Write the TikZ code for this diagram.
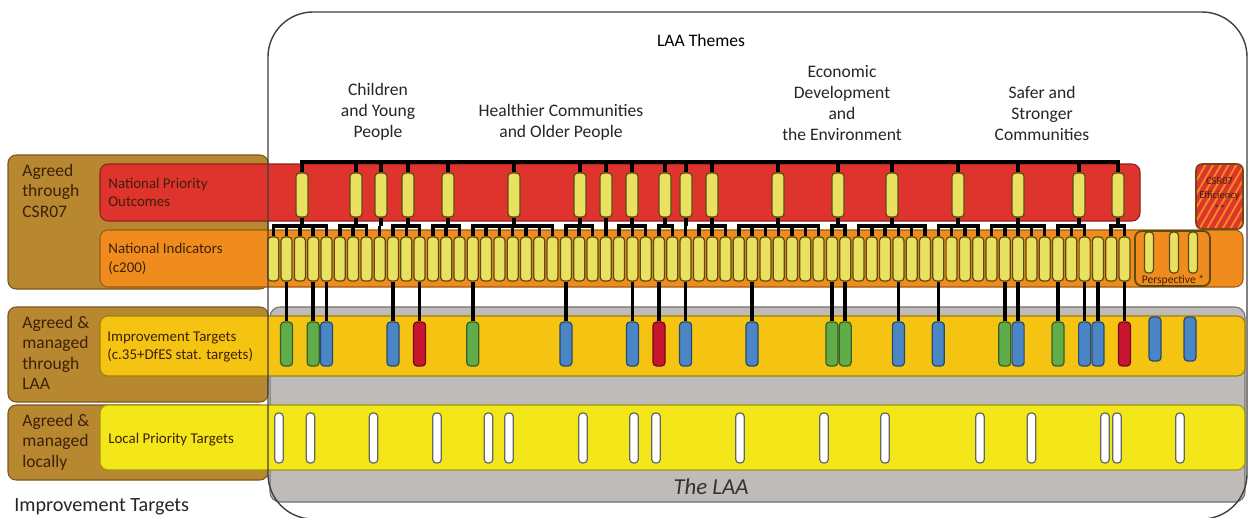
\documentclass[tikz,border=0pt]{standalone}
\usepackage{fontspec}
\setmainfont{Carlito}
\usetikzlibrary{patterns.meta}

\definecolor{tanC} {RGB}{184,136, 48}
\definecolor{npoC} {RGB}{222, 52, 45}
\definecolor{niC}  {RGB}{240,140, 30}
\definecolor{itC}  {RGB}{245,196, 18}
\definecolor{lptC} {RGB}{243,230, 25}
\definecolor{laaC} {RGB}{190,187,184}
\definecolor{capC} {RGB}{232,226, 96}
\definecolor{grnC} {RGB}{ 96,172, 72}
\definecolor{bluC} {RGB}{ 74,134,198}
\definecolor{redC} {RGB}{200, 20, 46}
\definecolor{txtC} {RGB}{ 62, 32,  8}
\definecolor{pillE}{RGB}{ 92, 74, 18}

\tikzset{
  band/.style    = {fill=#1, draw=#1!65!black, line width=0.6pt, rounded corners=0.16cm},
  pill/.style    = {draw=pillE, fill=#1, line width=0.7pt, rounded corners=2pt,
                    inner sep=0pt, minimum width=0.22cm, minimum height=0.88cm},
  itpill/.style  = {pill=#1, draw=#1!55!black, minimum width=0.24cm},
  lppill/.style  = {pill=white, draw=black!60, minimum width=0.17cm, minimum height=1.0cm},
  link/.style    = {line width=2pt},
  barline/.style = {line width=2pt, line cap=rect},
  sidelbl/.style = {anchor=north west, align=left, inner sep=0pt, text=txtC,
                    font=\fontsize{10}{11.6}\selectfont},
  bandlbl/.style = {anchor=west, align=left, inner sep=0pt, text=txtC,
                    font=\fontsize{8.5}{10.6}\selectfont},
  themelbl/.style= {anchor=south, align=center, inner sep=0pt, text=black!85,
                    font=\fontsize{10}{12}\selectfont},
}

% stem from outcome #1 down to a comb over indicators #2..#3
\newcommand{\npolink}[3]{%
  \draw[link] (npo#1.south) -- (npo#1.south |- comb);
  \draw[barline] (ni#2.north |- comb) -- (ni#3.north |- comb);
  \foreach \j in {#2,...,#3} \draw[link] (ni\j.north |- comb) -- (ni\j.north);
}

\begin{document}
\begin{tikzpicture}[x=0.02cm, y=-0.02cm]

\path[fill=white, use as bounding box] (0,0) rectangle (1250,517);

% ============================================================
%  Left column: who agrees what
% ============================================================
\draw[band=tanC] (8,155) rectangle (268,289);
\draw[band=tanC] (8,307) rectangle (268,402);
\draw[band=tanC] (8,405) rectangle (268,480);

% grey LAA area behind the target rows
\draw[fill=laaC, draw=laaC!60!black, line width=0.6pt, rounded corners=0.2cm]
  (270,307) rectangle (1245,502);

% --- the four rows ---
\draw[band=npoC] (100,164) rectangle (1140,221);
\draw[band=niC]  (100,230) rectangle (1243,287);
\draw[band=itC]  (100,316) rectangle (1245,376);
\draw[band=lptC] (100,405) rectangle (1245,470);

% --- CSR07 efficiency and perspective boxes ---
\draw[fill=npoC, draw=none, rounded corners=0.12cm] (1196,164) rectangle (1243,229);
\fill[pattern={Lines[angle=60, distance=3.8pt, line width=1.1pt]}, pattern color=niC,
      rounded corners=0.12cm] (1196,164) rectangle (1243,229);
\draw[draw=pillE!80!npoC, line width=0.9pt, rounded corners=0.12cm] (1196,164) rectangle (1243,229);
\node[inner sep=0pt, align=center, text=txtC, font=\fontsize{6}{7.8}\selectfont]
  (csr) at (1219.5,195) {CSR07\\Efficiency\\**};

\draw[fill=niC, draw=pillE, line width=1pt, rounded corners=0.14cm] (1135,231) rectangle (1210,286);
\foreach \x [count=\k] in {1149,1174,1193}
  \node[pill=capC, minimum width=0.18cm, minimum height=0.82cm] (pp\k) at (\x,252.5) {};
\node[inner sep=0pt, text=txtC, font=\fontsize{6.6}{7.5}\selectfont] (persp) at (1173,280) {Perspective *};

% ============================================================
%  Labels
% ============================================================
\node[sidelbl] (agr1) at (22,164) {Agreed\\through\\CSR07};
\node[sidelbl] (agr2) at (22,316) {Agreed \&\\managed\\through\\LAA};
\node[sidelbl] (agr3) at (22,414) {Agreed \&\\managed\\locally};

\node[bandlbl] (npolbl) at (108,192.5) {National Priority\\Outcomes};
\node[bandlbl] (nilbl)  at (108,259)   {National Indicators\\(c200)};
\node[bandlbl] (itlbl)  at (107,347)   {Improvement Targets\\(c.35+DfES stat. targets)};
\node[bandlbl] (lptlbl) at (108,440)   {Local Priority Targets};

\node[inner sep=0pt, font=\fontsize{10}{12}\selectfont] (themes) at (701,40) {LAA Themes};
\node[themelbl] (cyp) at (378,141)  {Children\\and Young\\People};
\node[themelbl] (hc)  at (561,141)  {Healthier Communities\\and Older People};
\node[themelbl] (ed)  at (842,141)  {Economic\\Development\\and\\the Environment};
\node[themelbl] (ss)  at (1042,141) {Safer and\\Stronger\\Communities};

\node[inner sep=0pt, text=black!80, font=\fontsize{13}{15}\selectfont\itshape] (laa) at (711,487) {The LAA};
\node[anchor=base west, inner sep=0pt, text=black!85, font=\fontsize{11.5}{13}\selectfont]
  (foot) at (14,511) {Improvement Targets};

% ============================================================
%  Outcomes, indicators and targets
% ============================================================
\coordinate (bar)   at (0,162);
\coordinate (comb)  at (0,226);
\coordinate (itrow) at (0,344);

\foreach \k/\x in {1/302,2/356,3/381,4/408,5/448,6/514,7/580,8/606,9/632,10/665,
                   11/686,12/712,13/778,14/838,15/892,16/958,17/1018,18/1079,19/1118}
  \node[pill=capC, minimum width=0.24cm] (npo\k) at (\x,195) {};

\foreach \i in {1,...,65}
  \node[pill=capC] (ni\i) at ({273.3+13.3*(\i-1)},259) {};

% top bar over all outcomes
\draw[barline] (npo1.north |- bar) -- (npo19.north |- bar);
\foreach \k in {1,...,19} \draw[link] (npo\k.north |- bar) -- (npo\k.north);

% outcome -> indicator combs
\foreach \k/\a/\b in {1/1/5,2/6/8,3/9/9,4/10/12,5/13/15,6/16/22,7/23/25,8/26/26,
                      9/27/29,10/30/31,11/32/32,12/33/35,13/36/42,14/43/44,
                      15/45/50,16/51/54,17/55/59,18/60/62,19/64/65}
  {\npolink{\k}{\a}{\b}}

% indicator -> improvement target
\foreach \k/\i/\c in {1/2/grnC,2/4/grnC,3/5/bluC,4/10/bluC,5/12/redC,6/16/grnC,
                      7/23/bluC,8/28/bluC,9/30/redC,10/32/bluC,11/37/bluC,
                      12/43/grnC,13/44/grnC,14/48/bluC,15/51/bluC,16/56/grnC,
                      17/57/bluC,18/60/grnC,19/62/bluC,20/63/bluC,21/65/redC}
{
  \node[itpill=\c] (it\k) at (ni\i |- itrow) {};
  \draw[link] (ni\i.south) -- (it\k.north);
}
\node[itpill=bluC] (it22) at (1155,339) {};
\node[itpill=bluC] (it23) at (1190,339) {};

% local priority targets
\foreach \x [count=\k] in {279,310.5,373.5,437,488.5,509,583,634,656,740,
                          824,885,980,1031.5,1105,1117,1180}
  \node[lppill] (lp\k) at (\x,438) {};

% ============================================================
%  LAA outline on top
% ============================================================
\draw[black!75, line width=0.8pt, rounded corners=0.9cm] (268,12) rectangle (1247,519);

\end{tikzpicture}
\end{document}
